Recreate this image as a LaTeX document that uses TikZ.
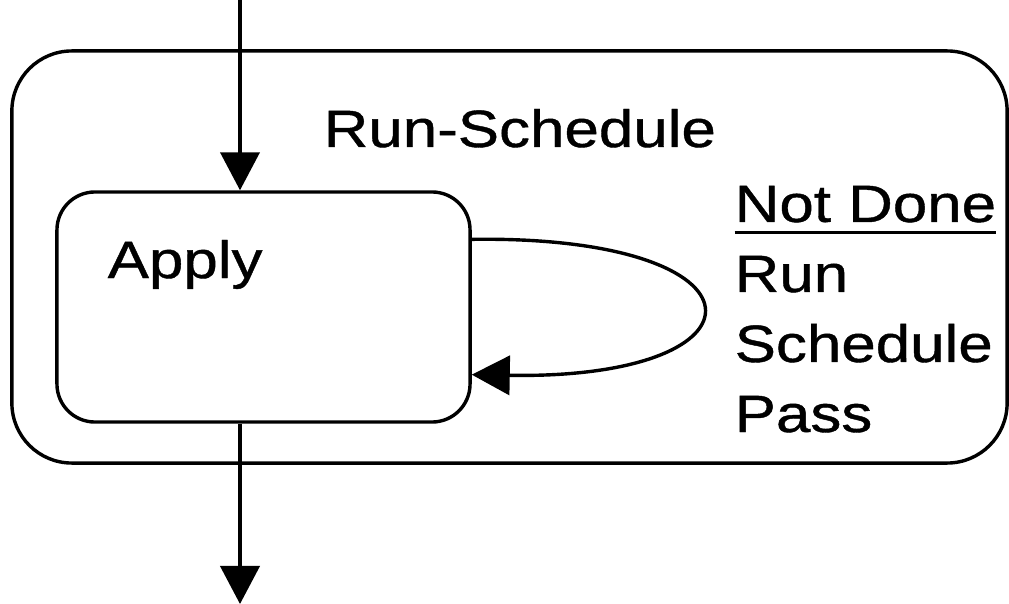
\documentclass[tikz,border=0pt]{standalone}
\usepackage{fontspec}
\setmainfont{Liberation Sans}[FakeStretch=1.18, FakeBold=0.8]
\usetikzlibrary{positioning,arrows.meta}
\tikzset{
	every node/.style = {font=\fontsize{37.3}{49.8}\selectfont, inner sep=0},
	statebox/.style = {draw, rectangle, line width=0.085cm},
	>={Triangle[length=0.95cm, width=0.98cm]}
}
\newcommand{\heading}[1]{\leavevmode\vtop{\hbox{#1}\kern5.8pt\hrule height 2.6pt}}

\begin{document}
\begin{tikzpicture}[x=0.025cm, y=-0.025cm, line width=0.085cm]
	\useasboundingbox (0,0) rectangle (1009,604);

	% outer state and the inner one
	\node[statebox, rounded corners=1.5cm, minimum width=24.875cm, minimum height=10.3cm] (sched) at (509.5,257) {};
	\node[statebox, rounded corners=0.95cm, minimum width=10.325cm, minimum height=5.75cm] (apply) at (263.5,307) {};

	\node[anchor=base west] (schedlabel) at (322,147) {Run-Schedule};
	\node[anchor=base west] (applylabel) at (106,278) {Apply};
	% base of a multi-line node is its last line
	\node[anchor=base west, align=left] (notdone) at (733,432) {\heading{Not Done}\\Run\\Schedule\\Pass};

	% entry and exit
	\coordinate (entry) at (240,0);
	\coordinate (exit) at (240,604);
	\draw[->] (entry) -- (entry |- apply.north);
	\draw[->] (apply.south -| exit) -- (exit);

	% self loop
	\draw[->] (apply.18.5) .. controls (777,235) and (777,380) .. (apply.-18.3);
\end{tikzpicture}
\end{document}
